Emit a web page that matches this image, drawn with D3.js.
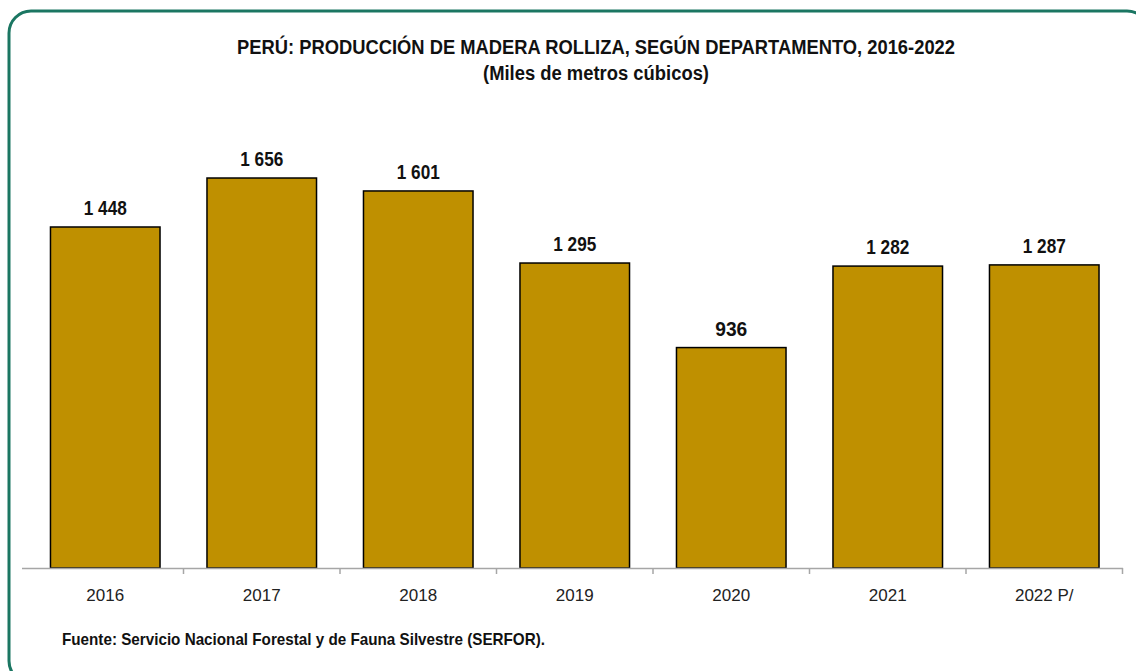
<!DOCTYPE html>
<html>
<head>
<meta charset="utf-8">
<script src="https://cdn.jsdelivr.net/npm/d3@7"></script>
<style>
	body { margin: 0; background: #fff; }
	svg { display: block; }
</style>
</head>
<body>
<svg id="chart"></svg>
<script>
const width = 1136
const height = 671

const years = ["2016", "2017", "2018", "2019", "2020", "2021", "2022 P/"]
const production = [1448, 1656, 1601, 1295, 936, 1282, 1287]
const titleLines = [
	"PERÚ: PRODUCCIÓN DE MADERA ROLLIZA, SEGÚN DEPARTAMENTO, 2016-2022",
	"(Miles de metros cúbicos)"
]
const sourceNote = "Fuente: Servicio Nacional Forestal y de Fauna Silvestre (SERFOR)."

const narrow = "'Liberation Sans Narrow', 'Arial Narrow', 'Liberation Sans', Arial, sans-serif"
const plain = "'Liberation Sans', Arial, sans-serif"

const data = years.map((y, i) => ({ year: y, value: production[i] }))

const svg = d3.select("#chart")
	.attr("width", width)
	.attr("height", height)

// Frame around the whole thing
svg.append("rect")
	.attr("x", 9)
	.attr("y", 11)
	.attr("width", 1140)
	.attr("height", 672)
	.attr("rx", 22)
	.attr("fill", "none")
	.attr("stroke", "#1b7662")
	.attr("stroke-width", 3)

// Title, squeezed to the width of the original narrow font
const titleWidths = [718, 226]
svg.selectAll(".title")
	.data(titleLines)
	.enter().append("text")
	.attr("class", "title")
	.attr("x", 596)
	.attr("y", (d, i) => 54 + i * 26)
	.attr("text-anchor", "middle")
	.attr("textLength", (d, i) => titleWidths[i])
	.attr("lengthAdjust", "spacingAndGlyphs")
	.style("font-family", narrow)
	.style("font-weight", "bold")
	.style("font-size", "20px")
	.attr("fill", "#111")
	.text(d => d)

const x = d3.scaleBand()
	.domain(years)
	.range([27, 1122.5])
	.paddingInner(0.3)
	.paddingOuter(0.15)

const y = d3.scaleLinear()
	.domain([0, 2000])
	.range([568, 97])

// Bars
svg.selectAll(".bar")
	.data(data)
	.enter().append("rect")
	.attr("class", "bar")
	.attr("x", d => x(d.year))
	.attr("y", d => y(d.value))
	.attr("width", x.bandwidth())
	.attr("height", d => y(0) - y(d.value))
	.attr("fill", "#bf9000")
	.attr("stroke", "#000")
	.attr("stroke-width", 1.5)

// Value labels
svg.selectAll(".value")
	.data(data)
	.enter().append("text")
	.attr("class", "value")
	.attr("x", d => x(d.year) + x.bandwidth() / 2)
	.attr("y", d => y(d.value) - 12)
	.attr("text-anchor", "middle")
	.attr("textLength", d => d.value >= 1000 ? 43 : 32)
	.attr("lengthAdjust", "spacingAndGlyphs")
	.style("font-family", narrow)
	.style("font-weight", "bold")
	.style("font-size", "20px")
	.attr("fill", "#111")
	.text(d => d3.format(",")(d.value).replace(",", " "))

// X axis: ticks sit on the band boundaries
const axis = svg.append("g").attr("class", "axis")

axis.append("line")
	.attr("x1", 22)
	.attr("x2", 1123)
	.attr("y1", 568.5)
	.attr("y2", 568.5)
	.attr("stroke", "#a6a6a6")
	.attr("stroke-width", 1.5)

const step = x.step()
const boundaries = years.map((d, i) => 27 + i * step).concat([27 + years.length * step])

axis.selectAll(".tick")
	.data(boundaries.slice(1))
	.enter().append("line")
	.attr("class", "tick")
	.attr("x1", d => d)
	.attr("x2", d => d)
	.attr("y1", 568)
	.attr("y2", 574)
	.attr("stroke", "#a6a6a6")
	.attr("stroke-width", 1.5)

axis.selectAll(".label")
	.data(years)
	.enter().append("text")
	.attr("class", "label")
	.attr("x", d => x(d) + x.bandwidth() / 2)
	.attr("y", 601)
	.attr("text-anchor", "middle")
	.style("font-family", plain)
	.style("font-size", "17px")
	.attr("fill", "#222")
	.text(d => d)

// Source
svg.append("text")
	.attr("x", 62)
	.attr("y", 645)
	.attr("textLength", 483)
	.attr("lengthAdjust", "spacingAndGlyphs")
	.style("font-family", narrow)
	.style("font-weight", "bold")
	.style("font-size", "17px")
	.attr("fill", "#111")
	.text(sourceNote)
</script>
</body>
</html>
